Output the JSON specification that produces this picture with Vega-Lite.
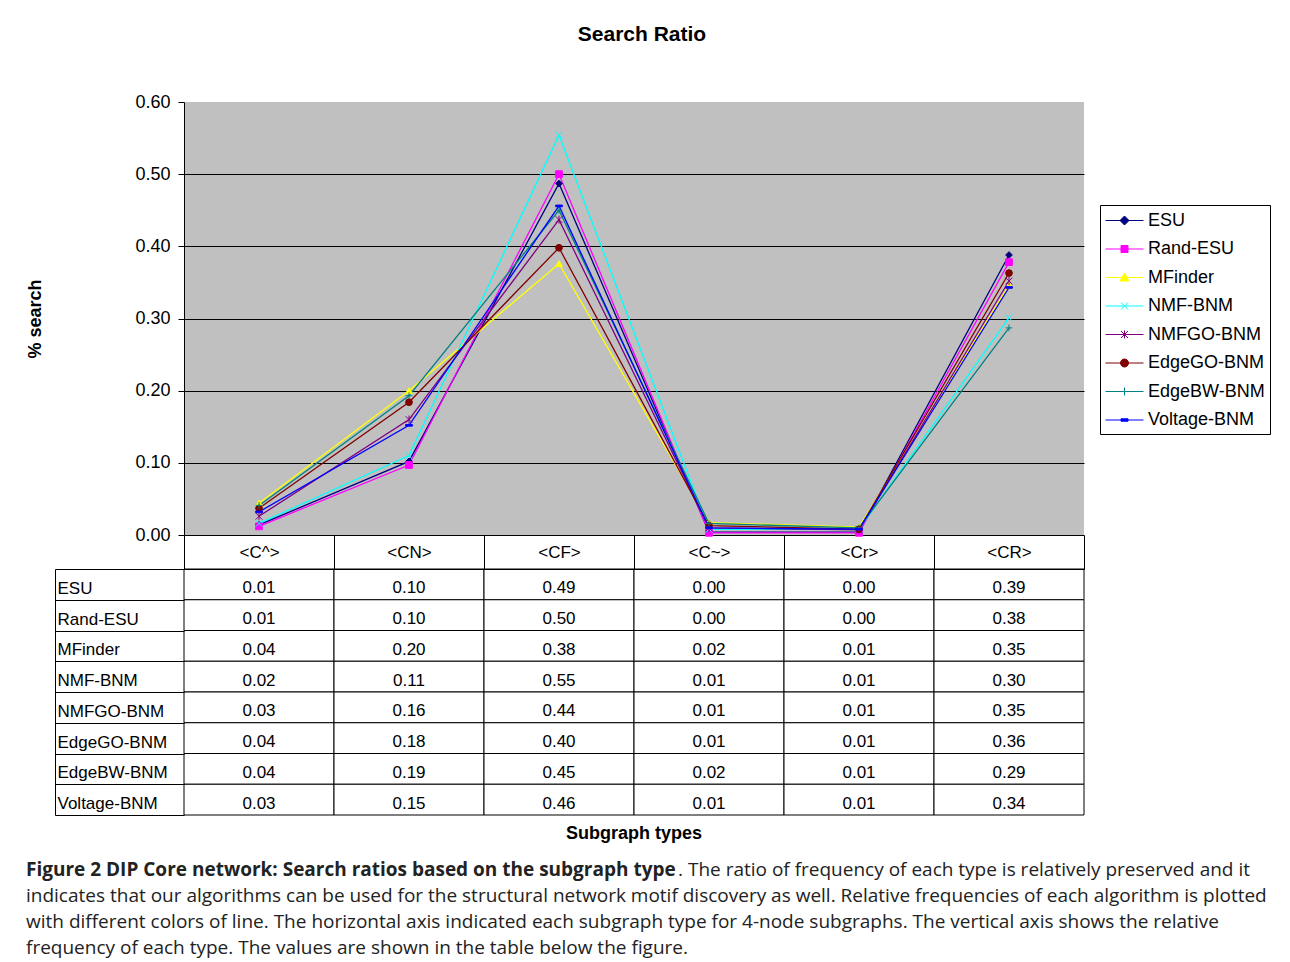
{
  "$schema": "https://vega.github.io/schema/vega-lite/v6.json",
  "padding": {"left": 26, "top": 24, "right": 5, "bottom": 2},
  "background": "white",
  "spacing": 34,
  "bounds": "flush",
  "config": {"view": {"stroke": null}, "font": "Liberation Sans"},
  "datasets": {
    "search": [
      {"series": "ESU", "type": "<C^>", "value": 0.014},
      {"series": "ESU", "type": "<CN>", "value": 0.102},
      {"series": "ESU", "type": "<CF>", "value": 0.487},
      {"series": "ESU", "type": "<C~>", "value": 0.004},
      {"series": "ESU", "type": "<Cr>", "value": 0.004},
      {"series": "ESU", "type": "<CR>", "value": 0.388},
      {"series": "Rand-ESU", "type": "<C^>", "value": 0.012},
      {"series": "Rand-ESU", "type": "<CN>", "value": 0.097},
      {"series": "Rand-ESU", "type": "<CF>", "value": 0.5},
      {"series": "Rand-ESU", "type": "<C~>", "value": 0.003},
      {"series": "Rand-ESU", "type": "<Cr>", "value": 0.003},
      {"series": "Rand-ESU", "type": "<CR>", "value": 0.378},
      {"series": "MFinder", "type": "<C^>", "value": 0.044},
      {"series": "MFinder", "type": "<CN>", "value": 0.2},
      {"series": "MFinder", "type": "<CF>", "value": 0.376},
      {"series": "MFinder", "type": "<C~>", "value": 0.017},
      {"series": "MFinder", "type": "<Cr>", "value": 0.011},
      {"series": "MFinder", "type": "<CR>", "value": 0.346},
      {"series": "NMF-BNM", "type": "<C^>", "value": 0.016},
      {"series": "NMF-BNM", "type": "<CN>", "value": 0.11},
      {"series": "NMF-BNM", "type": "<CF>", "value": 0.554},
      {"series": "NMF-BNM", "type": "<C~>", "value": 0.008},
      {"series": "NMF-BNM", "type": "<Cr>", "value": 0.008},
      {"series": "NMF-BNM", "type": "<CR>", "value": 0.301},
      {"series": "NMFGO-BNM", "type": "<C^>", "value": 0.026},
      {"series": "NMFGO-BNM", "type": "<CN>", "value": 0.16},
      {"series": "NMFGO-BNM", "type": "<CF>", "value": 0.437},
      {"series": "NMFGO-BNM", "type": "<C~>", "value": 0.01},
      {"series": "NMFGO-BNM", "type": "<Cr>", "value": 0.007},
      {"series": "NMFGO-BNM", "type": "<CR>", "value": 0.352},
      {"series": "EdgeGO-BNM", "type": "<C^>", "value": 0.037},
      {"series": "EdgeGO-BNM", "type": "<CN>", "value": 0.184},
      {"series": "EdgeGO-BNM", "type": "<CF>", "value": 0.398},
      {"series": "EdgeGO-BNM", "type": "<C~>", "value": 0.013},
      {"series": "EdgeGO-BNM", "type": "<Cr>", "value": 0.008},
      {"series": "EdgeGO-BNM", "type": "<CR>", "value": 0.363},
      {"series": "EdgeBW-BNM", "type": "<C^>", "value": 0.041},
      {"series": "EdgeBW-BNM", "type": "<CN>", "value": 0.193},
      {"series": "EdgeBW-BNM", "type": "<CF>", "value": 0.45},
      {"series": "EdgeBW-BNM", "type": "<C~>", "value": 0.016},
      {"series": "EdgeBW-BNM", "type": "<Cr>", "value": 0.01},
      {"series": "EdgeBW-BNM", "type": "<CR>", "value": 0.287},
      {"series": "Voltage-BNM", "type": "<C^>", "value": 0.032},
      {"series": "Voltage-BNM", "type": "<CN>", "value": 0.152},
      {"series": "Voltage-BNM", "type": "<CF>", "value": 0.456},
      {"series": "Voltage-BNM", "type": "<C~>", "value": 0.01},
      {"series": "Voltage-BNM", "type": "<Cr>", "value": 0.008},
      {"series": "Voltage-BNM", "type": "<CR>", "value": 0.343}
    ],
    "captionBold": [
      {"line": "1", "text": "Figure 2 DIP Core network: Search ratios based on the subgraph type"}
    ],
    "captionFirst": [
      {"line": "1", "text": ". The ratio of frequency of each type is relatively preserved and it"}
    ],
    "captionRest": [
      {"line": "2", "text": "indicates that our algorithms can be used for the structural network motif discovery as well. Relative frequencies of each algorithm is plotted"},
      {"line": "3", "text": "with different colors of line. The horizontal axis indicated each subgraph type for 4-node subgraphs. The vertical axis shows the relative"},
      {"line": "4", "text": "frequency of each type. The values are shown in the table below the figure."}
    ]
  },
  "vconcat": [
    {
      "width": 900,
      "height": 433,
      "view": {"fill": "#C0C0C0", "stroke": null},
      "data": {"name": "search"},
      "title": {"text": "Search Ratio", "font": "Liberation Sans", "fontSize": 21, "fontWeight": "bold", "color": "black", "frame": "group", "anchor": "middle", "dx": 8, "offset": 48},
      "encoding": {
        "x": {"field": "type", "type": "nominal", "sort": ["<C^>", "<CN>", "<CF>", "<C~>", "<Cr>", "<CR>"], "scale": {"type": "band", "paddingInner": 0, "paddingOuter": 0}, "axis": null},
        "y": {
          "field": "value", "type": "quantitative",
          "scale": {"domain": [0, 0.6], "nice": false},
          "axis": {
            "title": "% search", "titleFont": "Liberation Sans", "titleFontSize": 18, "titleFontWeight": "bold", "titleColor": "black", "titlePadding": 90,
            "format": ".2f", "tickCount": 6, "labelFont": "Liberation Sans", "labelFontSize": 18, "labelColor": "black", "labelPadding": 8,
            "tickSize": 6, "tickColor": "black", "domainColor": "black",
            "grid": true, "gridColor": "black",
            "gridOpacity": {"condition": {"test": "datum.value >= 0.59", "value": 0}, "value": 1}
          }
        }
      },
      "layer": [
        {
          "mark": {"type": "line", "strokeWidth": 1.3},
          "encoding": {
            "color": {"field": "series", "type": "nominal", "scale": {"domain": ["ESU", "Rand-ESU", "MFinder", "NMF-BNM", "NMFGO-BNM", "EdgeGO-BNM", "EdgeBW-BNM", "Voltage-BNM"], "range": ["#000080", "#FF00FF", "#FFFF00", "#00FFFF", "#800080", "#800000", "#008080", "#0000FF"]}, "legend": null}
          }
        },
        {
          "mark": {"type": "point", "filled": true, "size": 45, "strokeWidth": 1, "opacity": 1},
          "encoding": {
            "color": {"field": "series", "type": "nominal", "scale": {"domain": ["ESU", "Rand-ESU", "MFinder", "NMF-BNM", "NMFGO-BNM", "EdgeGO-BNM", "EdgeBW-BNM", "Voltage-BNM"], "range": ["#000080", "#FF00FF", "#FFFF00", "#00FFFF", "#800080", "#800000", "#008080", "#0000FF"]}, "legend": null},
            "stroke": {"field": "series", "type": "nominal", "scale": {"domain": ["ESU", "Rand-ESU", "MFinder", "NMF-BNM", "NMFGO-BNM", "EdgeGO-BNM", "EdgeBW-BNM", "Voltage-BNM"], "range": ["#000080", "#FF00FF", "#FFFF00", "#00FFFF", "#800080", "#800000", "#008080", "#0000FF"]}, "legend": null},
            "shape": {"field": "series", "type": "nominal", "scale": {"domain": ["ESU", "Rand-ESU", "MFinder", "NMF-BNM", "NMFGO-BNM", "EdgeGO-BNM", "EdgeBW-BNM", "Voltage-BNM"], "range": ["diamond", "square", "triangle-up", "M-1,-1L1,1M-1,1L1,-1", "M-1,-1L1,1M-1,1L1,-1M0,-1.2V1.2", "circle", "M-1,0H1M0,-1V1", "M-1,-0.25H1V0.25H-1Z"]}, "legend": null}
          }
        },
        {
          "transform": [{"filter": "false"}],
          "mark": {"type": "point", "filled": true, "opacity": 1, "strokeWidth": 1},
          "encoding": {
            "color": {"field": "series", "type": "nominal", "scale": {"domain": ["ESU", "Rand-ESU", "MFinder", "NMF-BNM", "NMFGO-BNM", "EdgeGO-BNM", "EdgeBW-BNM", "Voltage-BNM"], "range": ["#000080", "#FF00FF", "#FFFF00", "#00FFFF", "#800080", "#800000", "#008080", "#0000FF"]},
              "legend": {"title": null, "orient": "none", "legendX": 916, "legendY": 103, "symbolSize": 400, "symbolStrokeWidth": 1, "strokeColor": "black", "fillColor": "white", "padding": 5, "labelFont": "Liberation Sans", "labelFontSize": 18, "labelColor": "black", "labelOffset": 22, "rowPadding": 8.5, "labelLimit": 220}},
            "stroke": {"field": "series", "type": "nominal", "scale": {"domain": ["ESU", "Rand-ESU", "MFinder", "NMF-BNM", "NMFGO-BNM", "EdgeGO-BNM", "EdgeBW-BNM", "Voltage-BNM"], "range": ["#000080", "#FF00FF", "#FFFF00", "#00FFFF", "#800080", "#800000", "#008080", "#0000FF"]},
              "legend": {"title": null, "orient": "none", "legendX": 916, "legendY": 103, "symbolSize": 400, "symbolStrokeWidth": 1, "strokeColor": "black", "fillColor": "white", "padding": 5, "labelFont": "Liberation Sans", "labelFontSize": 18, "labelColor": "black", "labelOffset": 22, "rowPadding": 8.5, "labelLimit": 220}},
            "shape": {"field": "series", "type": "nominal", "scale": {"domain": ["ESU", "Rand-ESU", "MFinder", "NMF-BNM", "NMFGO-BNM", "EdgeGO-BNM", "EdgeBW-BNM", "Voltage-BNM"], "range": [
                "M-1,0H2.8M0.9,-0.45L1.35,0L0.9,0.45L0.45,0Z",
                "M-1,0H2.8M0.55,-0.35H1.25V0.35H0.55Z",
                "M-1,0H2.8M0.9,-0.45L1.35,0.35H0.45Z",
                "M-1,0H2.8M0.55,-0.35L1.25,0.35M0.55,0.35L1.25,-0.35",
                "M-1,0H2.8M0.55,-0.35L1.25,0.35M0.55,0.35L1.25,-0.35M0.9,-0.4V0.4",
                "M-1,0H2.8M1.3,0A0.4,0.4,0,1,1,0.5,0A0.4,0.4,0,1,1,1.3,0Z",
                "M-1,0H2.8M0.9,-0.4V0.4",
                "M-1,0H2.8M0.55,-0.12H1.25V0.12H0.55Z"]},
              "legend": {"title": null, "orient": "none", "legendX": 916, "legendY": 103, "symbolSize": 400, "symbolStrokeWidth": 1, "strokeColor": "black", "fillColor": "white", "padding": 5, "labelFont": "Liberation Sans", "labelFontSize": 18, "labelColor": "black", "labelOffset": 22, "rowPadding": 8.5, "labelLimit": 220}}
          }
        }
      ],
      "resolve": {"scale": {"color": "independent", "stroke": "independent", "shape": "independent"}}
    },
    {
      "width": 900,
      "height": 246,
      "data": {"name": "search"},
      "title": {"text": "Subgraph types", "orient": "bottom", "anchor": "middle", "frame": "group", "font": "Liberation Sans", "fontSize": 18, "fontWeight": "bold", "color": "black", "offset": 9},
      "encoding": {
        "x": {
          "field": "type", "type": "nominal", "sort": ["<C^>", "<CN>", "<CF>", "<C~>", "<Cr>", "<CR>"],
          "scale": {"type": "band", "paddingInner": 0, "paddingOuter": 0},
          "axis": {"orient": "top", "title": null, "tickBand": "extent", "tickSize": 34, "tickColor": "black", "domainColor": "black", "labelFont": "Liberation Sans", "labelFontSize": 17, "labelColor": "black", "labelBaseline": "middle", "labelPadding": -17, "labelAngle": 0}
        },
        "y": {
          "field": "series", "type": "nominal",
          "scale": {"type": "band", "domain": ["ESU", "Rand-ESU", "MFinder", "NMF-BNM", "NMFGO-BNM", "EdgeGO-BNM", "EdgeBW-BNM", "Voltage-BNM"], "paddingInner": 0, "paddingOuter": 0},
          "axis": {"title": null, "offset": 129, "tickBand": "extent", "tickSize": -129, "tickColor": "black", "domainColor": "black", "labelAlign": "left", "labelBaseline": "middle", "labelPadding": 127, "labelOffset": 4, "labelFont": "Liberation Sans", "labelFontSize": 17, "labelColor": "black", "labelLimit": 220}
        }
      },
      "layer": [
        {"mark": {"type": "rect", "fill": "white", "stroke": "black", "strokeWidth": 1}},
        {"mark": {"type": "text", "font": "Liberation Sans", "fontSize": 17, "fill": "black", "dy": 4}, "encoding": {"text": {"field": "value", "type": "quantitative", "format": ".2f"}}}
      ]
    },
    {
      "width": 900,
      "height": 99,
      "encoding": {
        "x": {"value": -158},
        "y": {"field": "line", "type": "ordinal", "scale": {"type": "point", "domain": ["1", "2", "3", "4"], "padding": 0.404, "align": 1}, "axis": null},
        "text": {"field": "text", "type": "nominal"}
      },
      "layer": [
        {"data": {"name": "captionBold"}, "mark": {"type": "text", "align": "left", "baseline": "middle", "font": "Open Sans", "fontSize": 19, "fontWeight": "bold", "fill": "#222222"}},
        {"data": {"name": "captionFirst"}, "mark": {"type": "text", "align": "left", "baseline": "middle", "font": "Open Sans", "fontSize": 19, "fill": "#222222", "dx": 652}},
        {"data": {"name": "captionRest"}, "mark": {"type": "text", "align": "left", "baseline": "middle", "font": "Open Sans", "fontSize": 19, "fill": "#222222"}}
      ]
    }
  ]
}
